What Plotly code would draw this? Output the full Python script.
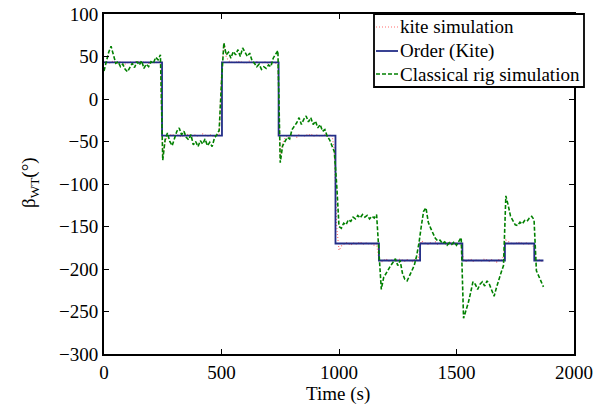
import plotly.graph_objects as go

# ---------------- data ----------------
time_s = list(range(0, 1880, 10))  # sample times (s)

kite_sim = [
    43, 44, 42, 43, 45, 43, 42, 44, 43, 41, 43, 44, 42, 43, 45, 43, 42, 44, 43, 42, 44, 43, 42, 44, 43,
    -68, -50, -45, -43, -41, -44, -42, -43, -45, -42, -43, -41, -44, -43, -42, -44, -43, -41, -43, -44, -42, -43, -45, -42, -43,
    30, 66, 50, 45, 43, 44, 42, 45, 43, 44, 42, 43, 45, 43, 42, 44, 43, 42, 44, 43, 42, 44, 43, 42, 44,
    -70, -52, -46, -43, -44, -42, -43, -45, -42, -43, -44, -42, -43, -41, -44, -43, -42, -44, -43, -42, -44, -43, -42, -60,
    -150, -178, -173, -171, -169, -170, -172, -169, -171, -170, -168, -171, -170, -169, -171, -170, -172, -170,
    -189, -192, -190, -188, -191, -190, -189, -191, -190, -188, -190, -191, -189, -190, -192, -189, -190, -185,
    -167, -169, -170, -171, -169, -170, -168, -171, -170, -169, -171, -170, -168, -170, -171, -169, -170, -172,
    -189, -191, -190, -188, -191, -190, -189, -191, -190, -188, -190, -191, -189, -190, -192, -189, -190, -185,
    -166, -168, -170, -171, -169, -170, -168, -171, -170, -169, -171, -170, -175,
    -190, -189, -191, -190,
]

classical_rig = [
    33, 45, 55, 62, 52, 42, 44, 38, 41, 35, 32, 38, 42, 37, 44, 40, 45, 36, 41, 38, 44, 42, 49, 46, 52,
    -72, -48, -40, -50, -55, -45, -38, -34, -42, -38, -45, -48, -42, -54, -50, -56, -49, -53, -47, -55, -51, -56, -46, -42, -37,
    20, 66, 52, 55, 48, 56, 52, 58, 50, 60, 55, 50, 54, 45, 42, 38, 41, 35, 38, 36, 40, 38, 48, 53, 57,
    -75, -55, -50, -45, -47, -36, -32, -28, -22, -30, -24, -20, -27, -22, -30, -26, -34, -30, -38, -36, -44, -48, -55, -62,
    -100, -150, -152, -146, -148, -142, -144, -139, -141, -137, -140, -136, -139, -137, -141, -138, -140, -136,
    -180, -224, -210, -205, -200, -196, -192, -188, -196, -190, -205, -212, -214, -208, -200, -196, -185, -170,
    -150, -132, -128, -145, -152, -158, -164, -167, -166, -170, -168, -172, -169, -171, -168, -172, -168, -163,
    -258, -250, -240, -228, -215, -218, -224, -218, -215, -220, -214, -218, -224, -232, -222, -212, -204, -196,
    -114, -125, -138, -143, -148, -149, -145, -147, -143, -144, -140, -138, -142,
    -202, -208, -216, -221,
]

order_t = [0, 247, 502, 743, 985, 1170, 1345, 1525, 1706, 1831, 1870]
order_v = [43, -43, 43, -43, -170, -190, -170, -190, -170, -190, -190]

x_ticks = [0, 500, 1000, 1500, 2000]
y_ticks = [100, 50, 0, -50, -100, -150, -200, -250, -300]

legend_labels = ["kite simulation", "Order (Kite)", "Classical rig simulation"]

# ---------------- style ----------------
FONT = "Liberation Serif"
FS = 19
RED = "rgb(255,110,110)"
BLUE = "rgb(35,45,135)"
GREEN = "rgb(0,128,0)"

fig = go.Figure()
fig.add_trace(go.Scatter(x=time_s, y=kite_sim, mode="lines", name=legend_labels[0],
                         line=dict(color=RED, width=1.2, dash="1px,2px")))
fig.add_trace(go.Scatter(x=order_t, y=order_v, mode="lines", name=legend_labels[1],
                         line=dict(color=BLUE, width=1.8, shape="hv")))
fig.add_trace(go.Scatter(x=time_s, y=classical_rig, mode="lines", name=legend_labels[2],
                         line=dict(color=GREEN, width=1.6, dash="4px,2px")))

# plot area in pixels: x 104..574, y 14..354
L, R, T, B = 104, 574, 14, 354
W, H = R - L, B - T


def px(xp):
    return (xp - L) / W


def py(yp):
    return (B - yp) / H


shapes = []
annotations = []
# legend box
shapes.append(dict(type="rect", xref="paper", yref="paper",
                   x0=px(374), x1=px(584), y0=py(87), y1=py(14),
                   line=dict(color="black", width=1.8), fillcolor="white", layer="above"))
legend_styles = [dict(color=RED, width=1.2, dash="1px,2px"),
                 dict(color=BLUE, width=1.8),
                 dict(color=GREEN, width=1.6, dash="4px,2px")]
rows = [27, 51, 74]
for lab, st, ry in zip(legend_labels, legend_styles, rows):
    shapes.append(dict(type="line", xref="paper", yref="paper",
                       x0=px(376), x1=px(398), y0=py(ry), y1=py(ry),
                       line=st, layer="above"))
    annotations.append(dict(xref="paper", yref="paper", x=px(398), y=py(ry),
                            text=lab, showarrow=False, xanchor="left", yanchor="middle",
                            font=dict(family=FONT, size=FS, color="black")))

# axis titles
annotations.append(dict(xref="paper", yref="paper", x=px(338), y=py(394),
                        text="Time (s)", showarrow=False, xanchor="center", yanchor="middle",
                        font=dict(family=FONT, size=FS, color="black")))
annotations.append(dict(xref="paper", yref="paper", x=px(30), y=py(183),
                        text="β<sub>WT</sub>(°)", showarrow=False, textangle=-90,
                        xanchor="center", yanchor="middle",
                        font=dict(family=FONT, size=FS, color="black")))

fig.update_layout(
    width=614, height=412,
    margin=dict(l=L, r=614 - R, t=T, b=412 - B, pad=0, autoexpand=False),
    paper_bgcolor="white", plot_bgcolor="white",
    showlegend=False,
    shapes=shapes, annotations=annotations,
    font=dict(family=FONT, size=FS, color="black"),
)
fig.update_xaxes(range=[0, 2000], tickvals=x_ticks, ticktext=[str(v) for v in x_ticks],
                 ticks="inside", ticklen=5, tickwidth=1, tickcolor="black",
                 showline=True, linecolor="black", linewidth=2, mirror="ticks",
                 showgrid=False, zeroline=False, automargin=False,
                 tickfont=dict(family=FONT, size=FS, color="black"))
fig.update_yaxes(range=[-300, 100], tickvals=y_ticks,
                 ticktext=[str(v).replace("-", "\u2212") for v in y_ticks],
                 ticks="inside", ticklen=5, tickwidth=1, tickcolor="black",
                 showline=True, linecolor="black", linewidth=2, mirror="ticks",
                 showgrid=False, zeroline=False, automargin=False,
                 tickfont=dict(family=FONT, size=FS, color="black"))

fig.write_html("out.html")
